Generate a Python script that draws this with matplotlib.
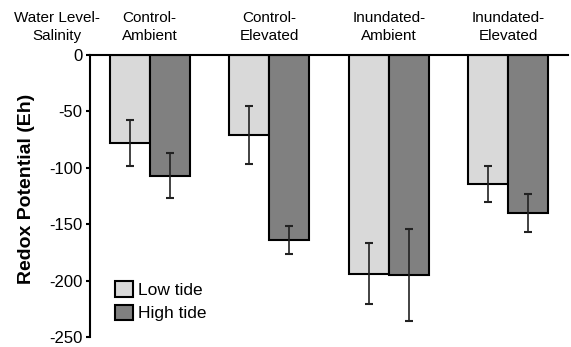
import numpy as np
import matplotlib
matplotlib.use("Agg")
import matplotlib.pyplot as plt
from matplotlib.patches import Patch

plt.rcParams['font.family'] = ['Liberation Sans', 'DejaVu Sans']

# dados
grupos = ["Control-\nAmbient", "Control-\nElevated", "Inundated-\nAmbient", "Inundated-\nElevated"]
low_tide = [-78, -71, -194, -114]
low_err = [20, 26, 27, 16]
high_tide = [-107, -164, -195, -140]
high_err = [20, 12, 41, 17]
yticks = [0, -50, -100, -150, -200, -250]

cor_low = "#d9d9d9"
cor_high = "#808080"

fig = plt.figure(figsize=(5.71, 3.47), dpi=100)
ax = fig.add_axes([0.1576, 0.0288, 0.8371, 0.8127])

x = np.arange(len(grupos))
w = 1 / 3
ax.bar(x - w / 2, low_tide, w, color=cor_low, edgecolor="black", linewidth=1.5, zorder=2)
ax.bar(x + w / 2, high_tide, w, color=cor_high, edgecolor="black", linewidth=1.5, zorder=2)
ax.errorbar(x - w / 2, low_tide, yerr=low_err, fmt="none", ecolor="#222222",
            elinewidth=1.2, capsize=2.6, capthick=1.5, zorder=3)
ax.errorbar(x + w / 2, high_tide, yerr=high_err, fmt="none", ecolor="#222222",
            elinewidth=1.2, capsize=2.6, capthick=1.5, zorder=3)

ax.set_xlim(-0.5, len(grupos) - 0.5)
ax.set_ylim(-250, 0)
ax.set_yticks(yticks)
ax.set_yticklabels([str(t) for t in yticks], fontsize=12)
ax.set_xticks([])

for s in ["bottom", "right"]:
    ax.spines[s].set_visible(False)
ax.spines["left"].set_linewidth(1.5)
ax.spines["top"].set_linewidth(1.5)
ax.tick_params(axis="y", length=3, width=1.5, direction="out", pad=2.5)

# rótulos dos grupos em cima
trans = ax.get_xaxis_transform()
for xi, g in zip(x, grupos):
    ax.text(xi, 1.044, g, transform=trans, ha="center", va="bottom",
            fontsize=11, linespacing=1.34)
ax.text(-0.78, 1.044, "Water Level-\nSalinity", transform=trans, ha="center", va="bottom",
        fontsize=11, linespacing=1.34)

fig.text(0.047, 0.455, "Redox Potential (Eh)", rotation=90, ha="center", va="center",
         fontsize=14, fontweight="bold")

handles = [Patch(facecolor=cor_low, edgecolor="black", linewidth=1.5, label="Low tide"),
           Patch(facecolor=cor_high, edgecolor="black", linewidth=1.5, label="High tide")]
ax.legend(handles=handles, loc="lower left", bbox_to_anchor=(0.02, 0.0), frameon=False,
          fontsize=12.5, handlelength=1.0, handleheight=1.0, handletextpad=0.3,
          labelspacing=0.4, borderpad=0.4)

fig.savefig("out.png", dpi=100)
